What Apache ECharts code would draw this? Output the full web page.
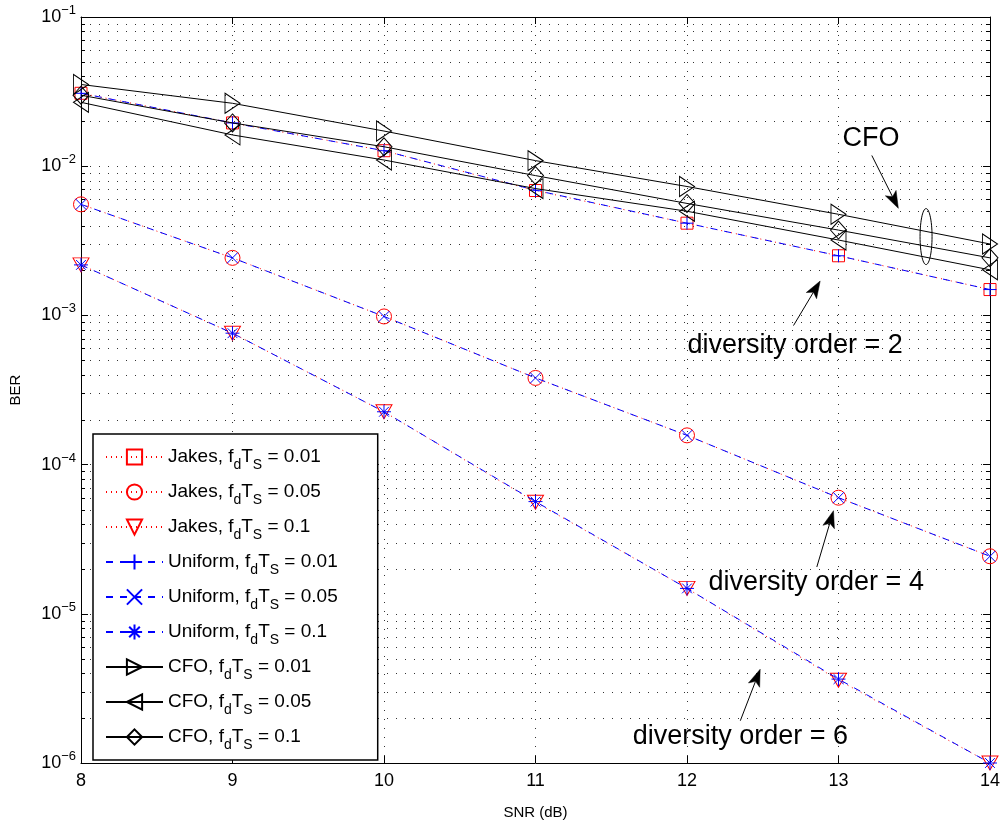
<!DOCTYPE html>
<html><head><meta charset="utf-8">
<script src="https://cdn.jsdelivr.net/npm/echarts@6/dist/echarts.min.js"></script>
<style>html,body{margin:0;padding:0;background:#fff}#c{width:1003px;height:825px}</style>
</head><body><div id="c"></div>
<script>
// ---------------- data ----------------
const snr = [8, 9, 10, 11, 12, 13, 14];
const jakes001 = [0.0308, 0.0195, 0.0127, 0.00687, 0.00415, 0.00251, 0.00149];
const jakes005 = [0.00555, 0.00243, 0.000984, 0.000381, 0.000157, 0.0000600, 0.0000243];
const jakes01  = [0.00218, 0.00076, 0.000226, 0.0000560, 0.0000148, 0.00000359, 0.0000010];
const unif001  = [0.0308, 0.0195, 0.0127, 0.00690, 0.00415, 0.00251, 0.00149];
const unif005  = [0.00555, 0.00243, 0.000984, 0.000381, 0.000157, 0.0000600, 0.0000243];
const unif01   = [0.00218, 0.00076, 0.000226, 0.0000565, 0.0000148, 0.00000365, 0.0000010];
const cfo001   = [0.0353, 0.0264, 0.0172, 0.0109, 0.00731, 0.00476, 0.00301];
const cfo005   = [0.0268, 0.0162, 0.0110, 0.00708, 0.00499, 0.00320, 0.00202];
const cfo01    = [0.0299, 0.0195, 0.0135, 0.00865, 0.00563, 0.00373, 0.00243];
const seriesNames = [
  'Jakes, fdTS = 0.01', 'Jakes, fdTS = 0.05', 'Jakes, fdTS = 0.1',
  'Uniform, fdTS = 0.01', 'Uniform, fdTS = 0.05', 'Uniform, fdTS = 0.1',
  'CFO, fdTS = 0.01', 'CFO, fdTS = 0.05', 'CFO, fdTS = 0.1'
];
const xTicks = [8, 9, 10, 11, 12, 13, 14];
const yDecades = [-6, -5, -4, -3, -2, -1];
const xTitle = 'SNR (dB)';
const yTitle = 'BER';
// annotations (anchored in data coordinates)
const annTexts = [
  {text: 'CFO', x: 13.215, y: 0.01524},
  {text: 'diversity order = 2', x: 12.714, y: 6.32e-4},
  {text: 'diversity order = 4', x: 12.853, y: 1.61e-5},
  {text: 'diversity order = 6', x: 12.352, y: 1.50e-6}
];
const annArrows = [
  {x1: 13.22, y1: 0.0118, x2: 13.395, y2: 0.00522},
  {x1: 12.703, y1: 8.55e-4, x2: 12.879, y2: 1.70e-3},
  {x1: 12.857, y1: 2.06e-5, x2: 12.967, y2: 4.91e-5},
  {x1: 12.352, y1: 1.92e-6, x2: 12.483, y2: 4.25e-6}
];
const annEllipse = {x: 13.578, y: 0.003375};

// ---------------- chart ----------------
const FONT = '"Liberation Sans", Arial, Helvetica, sans-serif';
const chart = echarts.init(document.getElementById('c'), null, {renderer: 'canvas'});

const minorVals = [];
yDecades.slice(0, 5).forEach(e => { for (let m = 2; m <= 9; m++) minorVals.push([8, m * Math.pow(10, e)]); });

const P_PLUS = 'path://M0,-1L0,1M-1,0L1,0';
const P_X = 'path://M-1,-1L1,1M-1,1L1,-1';
const P_STAR = 'path://M0,-1L0,1M-1,0L1,0M-0.7,-0.7L0.7,0.7M-0.7,0.7L0.7,-0.7';

function mk(name, data, color, lineType, symbol, size, rotate, z) {
  return {
    name: name, type: 'line', xAxisIndex: 0, yAxisIndex: 0,
    data: snr.map((x, i) => [x, data[i]]),
    symbol: symbol, symbolSize: size, symbolRotate: rotate || 0,
    showAllSymbol: true, animation: false, z: z, clip: false,
    lineStyle: {color: color, width: 1, type: lineType},
    itemStyle: {color: 'none', borderColor: color, borderWidth: 1},
    emphasis: {disabled: true}
  };
}

const series = [
  {type: 'custom', name: '_minor', silent: true, z: 1, animation: false,
   data: minorVals, clip: false,
   renderItem: function (params, api) {
     const cs = params.coordSys;
     const y = Math.round(api.coord([8, api.value(1)])[1]) + 0.5;
     return {type: 'group', children: [
       {type: 'line', shape: {x1: cs.x, y1: y, x2: cs.x + cs.width, y2: y}, style: {stroke: '#333', lineWidth: 1, lineDash: [1, 8]}},
       {type: 'line', shape: {x1: cs.x, y1: y, x2: cs.x + 4, y2: y}, style: {stroke: '#000', lineWidth: 1}},
       {type: 'line', shape: {x1: cs.x + cs.width - 4, y1: y, x2: cs.x + cs.width, y2: y}, style: {stroke: '#000', lineWidth: 1}}
     ]};
   }},
  mk(seriesNames[0], jakes001, '#ff0000', [1, 4], 'rect', 12, 0, 3),
  mk(seriesNames[1], jakes005, '#ff0000', [1, 4], 'circle', 15, 0, 3),
  mk(seriesNames[2], jakes01, '#ff0000', [1, 4], 'triangle', [16, 14], 180, 3),
  mk(seriesNames[3], unif001, '#0000ff', [7, 7], P_PLUS, 13, 0, 4),
  mk(seriesNames[4], unif005, '#0000ff', [7, 7], P_X, 11, 0, 4),
  mk(seriesNames[5], unif01, '#0000ff', [7, 7], P_STAR, 14, 0, 4),
  mk(seriesNames[6], cfo001, '#000000', 'solid', 'triangle', [20, 15], -90, 5),
  mk(seriesNames[7], cfo005, '#000000', 'solid', 'triangle', [20, 15], 90, 5),
  mk(seriesNames[8], cfo01, '#000000', 'solid', 'diamond', [16, 18], 0, 5)
];

const gridLine = {show: true, lineStyle: {color: '#333', width: 1, type: [1, 8]}};

const option = {
  backgroundColor: '#fff',
  animation: false,
  textStyle: {fontFamily: FONT},
  grid: {left: 80, top: 17, right: 12, bottom: 56, containLabel: false, show: false},
  xAxis: [
    {type: 'value', min: 8, max: 14, interval: 1, position: 'bottom',
     name: xTitle, nameLocation: 'middle', nameGap: 42,
     nameTextStyle: {fontSize: 15, color: '#000', fontFamily: FONT},
     axisLine: {show: true, onZero: false, lineStyle: {color: '#000', width: 1}},
     axisTick: {show: true, inside: true, length: 7, lineStyle: {color: '#000'}},
     axisLabel: {fontSize: 18, color: '#000', margin: 9, fontFamily: FONT,
       formatter: v => (xTicks.indexOf(v) >= 0 ? String(v) : '')},
     splitLine: gridLine},
    {type: 'value', min: 8, max: 14, interval: 1, position: 'top',
     axisLine: {show: true, onZero: false, lineStyle: {color: '#000', width: 1}},
     axisTick: {show: true, inside: true, length: 7, lineStyle: {color: '#000'}},
     axisLabel: {show: false}, splitLine: {show: false}}
  ],
  yAxis: [
    {type: 'log', logBase: 10, min: 1e-6, max: 1e-1, position: 'left',
     name: yTitle, nameLocation: 'middle', nameGap: 58, nameRotate: 90,
     nameTextStyle: {fontSize: 15, color: '#000', fontFamily: FONT},
     axisLine: {show: true, onZero: false, lineStyle: {color: '#000', width: 1}},
     axisTick: {show: true, inside: true, length: 7, lineStyle: {color: '#000'}},
     axisLabel: {color: '#000', margin: 5, fontFamily: FONT,
       formatter: v => '{b|10}{s|\u2212' + (-Math.round(Math.log10(v))) + '}',
       rich: {
         b: {fontSize: 18, lineHeight: 18, verticalAlign: 'bottom', fontFamily: FONT, color: '#000'},
         s: {fontSize: 13, lineHeight: 13, padding: [0, 0, 9, 0], verticalAlign: 'bottom', fontFamily: FONT, color: '#000'}
       }},
     splitLine: gridLine},
    {type: 'log', logBase: 10, min: 1e-6, max: 1e-1, position: 'right',
     axisLine: {show: true, onZero: false, lineStyle: {color: '#000', width: 1}},
     axisTick: {show: true, inside: true, length: 7, lineStyle: {color: '#000'}},
     axisLabel: {show: false}, splitLine: {show: false}}
  ],
  legend: {
    orient: 'vertical', left: 93, top: 434,
    data: seriesNames,
    selectedMode: false,
    itemWidth: 57, itemHeight: 19, itemGap: 5,
    padding: [8, 40, 8, 12],
    backgroundColor: '#fff', borderColor: '#000', borderWidth: 1.5, borderRadius: 0,
    textStyle: {fontSize: 19, color: '#000', fontFamily: FONT, lineHeight: 21,
      rich: {
        s: {fontSize: 14, lineHeight: 14, padding: [16, 0, 0, 0], fontFamily: FONT, color: '#000'}
      }},
    formatter: name => name.replace('fdTS', 'f{s|d}T{s|S}')
  },
  series: series
};
chart.setOption(option);

// ---------------- annotations ----------------
function px(x, y) { return chart.convertToPixel({xAxisIndex: 0, yAxisIndex: 0}, [x, y]); }
const g = [];
annTexts.forEach(a => {
  const p = px(a.x, a.y);
  g.push({type: 'text', x: p[0], y: p[1], z: 10,
    style: {text: a.text, fontSize: 27, fontFamily: FONT, fill: '#000', align: 'center', verticalAlign: 'middle', textAlign: 'center', textVerticalAlign: 'middle'}});
});
annArrows.forEach(a => {
  const s = px(a.x1, a.y1), e = px(a.x2, a.y2);
  const ang = Math.atan2(e[1] - s[1], e[0] - s[0]);
  const L = 17, W = 6, N = 4;
  const c = Math.cos(ang), sn = Math.sin(ang);
  const bx = e[0] - L * c, by = e[1] - L * sn;
  const nx = -sn, ny = c;
  g.push({type: 'line', z: 10, shape: {x1: s[0], y1: s[1], x2: bx + N * c, y2: by + N * sn}, style: {stroke: '#000', lineWidth: 1}});
  g.push({type: 'polygon', z: 10, shape: {points: [[e[0], e[1]], [bx + nx * W, by + ny * W], [bx + N * c, by + N * sn], [bx - nx * W, by - ny * W]]}, style: {fill: '#000', stroke: '#000', lineWidth: 0.5}});
});
(function () {
  const p = px(annEllipse.x, annEllipse.y);
  const pts = [];
  for (let i = 0; i < 60; i++) { const t = i / 60 * Math.PI * 2; pts.push([p[0] + 6 * Math.cos(t), p[1] + 28 * Math.sin(t)]); }
  g.push({type: 'polygon', z: 10, shape: {points: pts}, style: {fill: 'none', stroke: '#000', lineWidth: 1}});
})();
chart.setOption({graphic: g});
</script>
</body></html>
